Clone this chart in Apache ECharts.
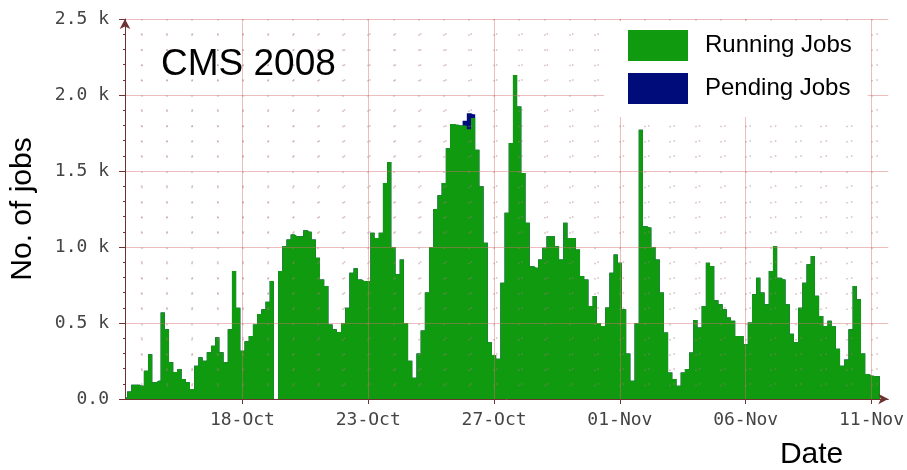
<!DOCTYPE html>
<html><head><meta charset="utf-8">
<script src="https://cdn.jsdelivr.net/npm/echarts@6/dist/echarts.min.js"></script>
<style>html,body{margin:0;padding:0;background:#fff}#c{width:907px;height:470px}</style>
</head><body><div id="c"></div>
<script>
// time axis: hours since 13-Oct 00:00, one sample every 4 hours starting 13-Oct 08:00
const START_HOUR = 8;
const STEP_HOURS = 4;
const AXIS_MIN = 8;
const AXIS_MAX = 736;
const tickHours = [120, 240, 360, 480, 600, 720];
const tickLabels = ['18-Oct', '23-Oct', '27-Oct', '01-Nov', '06-Nov', '11-Nov'];
const seriesNames = ['Running Jobs', 'Pending Jobs'];

const running = [
  10,50,94,94,87,186,295,111,120,569,
  459,242,177,197,131,111,66,218,275,251,
  308,350,407,308,242,459,842,600,317,380,
  415,490,560,590,640,776,0,842,1006,1050,
  1082,1071,1071,1110,1100,1050,930,787,743,490,
  459,441,500,600,831,860,787,776,776,1093,
  1060,1093,1421,1560,1000,820,918,500,251,140,
  300,450,700,1000,1250,1340,1421,1650,1810,1804,
  1800,1800,1775,1848,1640,1400,1028,374,290,265,
  765,1225,1684,2132,1924,1487,1159,874,864,918,
  995,1071,1071,1006,918,1159,1060,1060,984,809,
  787,612,678,500,480,602,831,951,897,590,
  300,120,500,1771,1137,1128,1000,918,700,437,
  175,131,87,175,197,306,520,470,612,897,
  875,650,623,590,536,514,415,415,360,503,
  689,798,700,623,842,1006,798,787,623,430,
  374,600,765,886,940,680,546,481,514,480,
  330,219,260,459,743,656,300,164,153,150,
  150
];
const pending = [
  0,0,0,0,0,0,0,0,0,0,
  0,0,0,0,0,0,0,0,0,0,
  0,0,0,0,0,0,0,0,0,0,
  0,0,0,0,0,0,0,0,0,0,
  0,0,0,0,0,0,0,0,0,0,
  0,0,0,0,0,0,0,0,0,0,
  0,0,0,0,0,0,0,0,0,0,
  0,0,0,0,0,0,0,0,0,0,
  0,30,105,25,0,0,0,0,0,0,
  0,0,0,0,0,0,0,0,0,0,
  0,0,0,0,0,0,0,0,0,0,
  0,0,0,0,0,0,0,0,0,0,
  0,0,0,0,0,0,0,0,0,0,
  0,0,0,0,0,0,0,0,0,0,
  0,0,0,0,0,0,0,0,0,0,
  0,0,0,0,0,0,0,0,0,0,
  0,0,0,0,0,0,0,0,0,0,
  0,0,0,0,0,0,0,0,0,0,
  0
];

const GREEN = '#109a10';
const NAVY = '#000c7a';
const axisColor = '#6e3434';
const majorGrid = 'rgba(215,110,110,0.45)';
const minorDot = 'rgba(170,120,120,0.5)';
const mono = 'DejaVu Sans Mono';
const sans = 'Liberation Sans';

const dayTicks = [];
for (let h = 24; h <= 720; h += 24) dayTicks.push(h);

const runData = running.map((v, i) => [START_HOUR + i * STEP_HOURS, v]);
// pending jobs are stacked on top of running jobs: drawn as the total, behind the running area
const totalData = pending.map((v, i) => [START_HOUR + i * STEP_HOURS, v + running[i]]);

const chart = echarts.init(document.getElementById('c'), null, {renderer: 'canvas'});
chart.setOption({
  animation: false,
  title: {
    text: 'CMS 2008', left: 156, top: 41,
    textStyle: {fontFamily: sans, fontSize: 37, fontWeight: 'normal', color: '#000'}
  },
  legend: {
    orient: 'vertical', left: 604, top: 21, padding: [9, 16, 13, 24], z: 6,
    backgroundColor: '#fff',
    itemWidth: 60, itemHeight: 31, itemGap: 12, icon: 'rect',
    textStyle: {fontFamily: sans, fontSize: 24, color: '#000', padding: [0, 0, 0, 12]},
    data: seriesNames
  },
  grid: {left: 124, right: 14, top: 19, bottom: 70},
  xAxis: [
    {
      type: 'value', min: AXIS_MIN, max: AXIS_MAX, position: 'bottom', z: 3,
      axisLine: {show: false},
      axisTick: {show: false, customValues: dayTicks},
      axisLabel: {show: false},
      splitLine: {show: true, lineStyle: {color: minorDot, width: 1.5, type: [1.5, 13.74], dashOffset: 0}}
    },
    {
      type: 'value', min: AXIS_MIN, max: AXIS_MAX, position: 'bottom', z: 4,
      name: 'Date', nameLocation: 'end', nameGap: -45,
      nameTextStyle: {fontFamily: sans, fontSize: 30, color: '#000', align: 'right', verticalAlign: 'top', padding: [41, 0, 0, 0]},
      axisLine: {show: true, lineStyle: {color: axisColor, width: 1}, symbol: ['none', 'arrow'], symbolSize: [8, 10]},
      axisTick: {show: true, customValues: tickHours, length: 5, lineStyle: {color: axisColor}},
      axisLabel: {
        customValues: tickHours, margin: 12,
        formatter: v => tickLabels[tickHours.indexOf(v)] || '',
        fontFamily: mono, fontSize: 18, color: '#444'
      },
      splitLine: {show: true, lineStyle: {color: majorGrid}}
    }
  ],
  yAxis: {
    type: 'value', min: 0, max: 2500, interval: 500, z: 4,
    name: 'No. of jobs', nameLocation: 'middle', nameGap: 87, nameRotate: 90,
    nameTextStyle: {fontFamily: sans, fontSize: 30, color: '#000'},
    axisLine: {show: true, lineStyle: {color: axisColor, width: 1}, symbol: ['none', 'arrow'], symbolSize: [8, 10]},
    axisTick: {show: true, length: 6, lineStyle: {color: axisColor}},
    minorTick: {show: true, splitNumber: 5, length: 2, lineStyle: {color: axisColor}},
    axisLabel: {
      margin: 16, fontFamily: mono, fontSize: 18, color: '#444',
      formatter: v => v === 0 ? '0.0' : (v / 1000).toFixed(1) + ' k'
    },
    splitLine: {show: true, lineStyle: {color: majorGrid}},
    minorSplitLine: {show: true, lineStyle: {color: minorDot, width: 1.5, type: [1.5, 23.86], dashOffset: 9.5}}
  },
  series: [
    {
      name: seriesNames[1], type: 'line', step: 'middle', xAxisIndex: 1, z: 2,
      data: totalData, symbol: 'none', showSymbol: false, color: NAVY,
      itemStyle: {color: NAVY}, lineStyle: {width: 0}, areaStyle: {color: NAVY, opacity: 1}
    },
    {
      name: seriesNames[0], type: 'line', step: 'middle', xAxisIndex: 1, z: 2,
      data: runData, symbol: 'none', showSymbol: false, color: GREEN,
      itemStyle: {color: GREEN}, lineStyle: {width: 0}, areaStyle: {color: GREEN, opacity: 1}
    }
  ]
});
</script>
</body></html>
